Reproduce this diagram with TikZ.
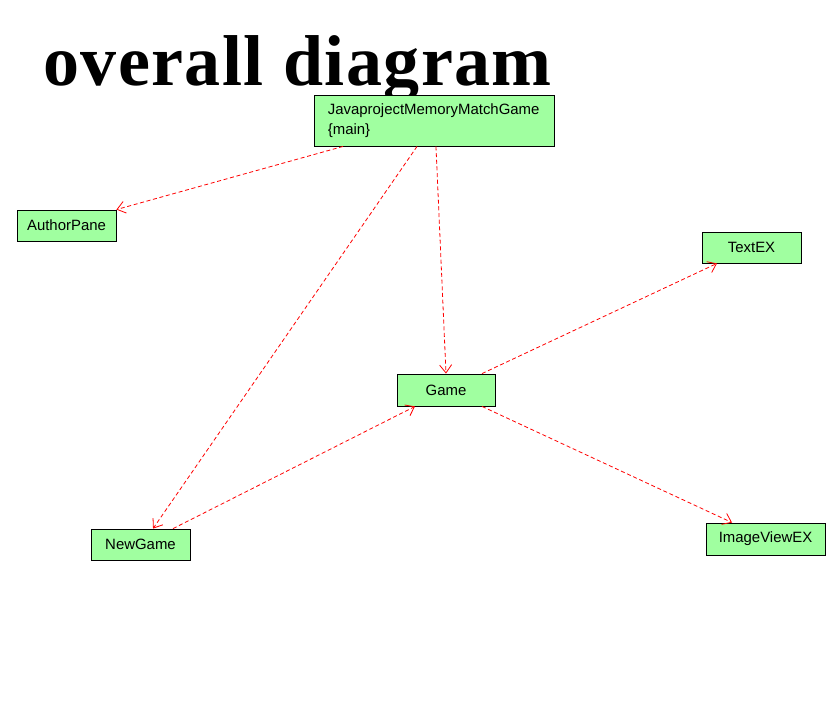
\documentclass[tikz,border=0pt]{standalone}
\usepackage{fontspec}
\setmainfont{Liberation Sans}
\newfontfamily\titlefont[LetterSpace=2]{Liberation Serif Bold}
\usetikzlibrary{arrows.meta}
\definecolor{boxgreen}{RGB}{160,255,160}
\tikzset{
  classbox/.style={draw=black, fill=boxgreen, line width=0.65pt, rectangle, inner sep=0pt,
    minimum width=74.25pt, minimum height=23.25pt, font=\fontsize{11.2}{15}\selectfont},
  uses/.style={draw=red, line width=0.6pt, dash pattern=on 3pt off 2pt, -{Straight Barb[length=6pt,width=9pt]}}
}
\begin{document}
\begin{tikzpicture}[x=0.75pt,y=-0.75pt]
      \useasboundingbox (0,0) rectangle (834,707);
      \node[anchor=base west, inner sep=0pt] (title) at (43,85) {\titlefont\fontsize{54}{60}\selectfont overall diagram};
      % classes
      \node[classbox, minimum width=179.25pt, minimum height=38.25pt, text width=160pt, inner xsep=10pt, align=left] (main) at (434.5,120.5) {JavaprojectMemoryMatchGame\\{\{main\}}};
      \node[classbox] (authorpane) at (66.5,225.5) {AuthorPane};
      \node[classbox] (textex) at (751.5,247.5) {TextEX};
      \node[classbox, minimum width=73.5pt, minimum height=24pt] (game) at (446,390) {Game};
      \node[classbox] (newgame) at (140.5,544.5) {NewGame};
      \node[classbox, minimum width=89.25pt, minimum height=24pt] (imageviewex) at (765.5,539) {ImageViewEX};
      % dependencies
      \draw[uses] ([xshift=-68.6pt]main.south) -- (authorpane.north east);
      \draw[uses] ([xshift=-13.1pt]main.south) -- ([xshift=9.4pt]newgame.north);
      \draw[uses] ([xshift=1.1pt]main.south) -- (game.north);
      \draw[uses] ([xshift=27pt]game.north) -- ([xshift=-25.9pt]textex.south);
      \draw[uses] ([xshift=24.4pt]newgame.north) -- ([xshift=-23.25pt]game.south);
      \draw[uses] ([xshift=27pt]game.south) -- ([xshift=-25.1pt]imageviewex.north);
\end{tikzpicture}
\end{document}
